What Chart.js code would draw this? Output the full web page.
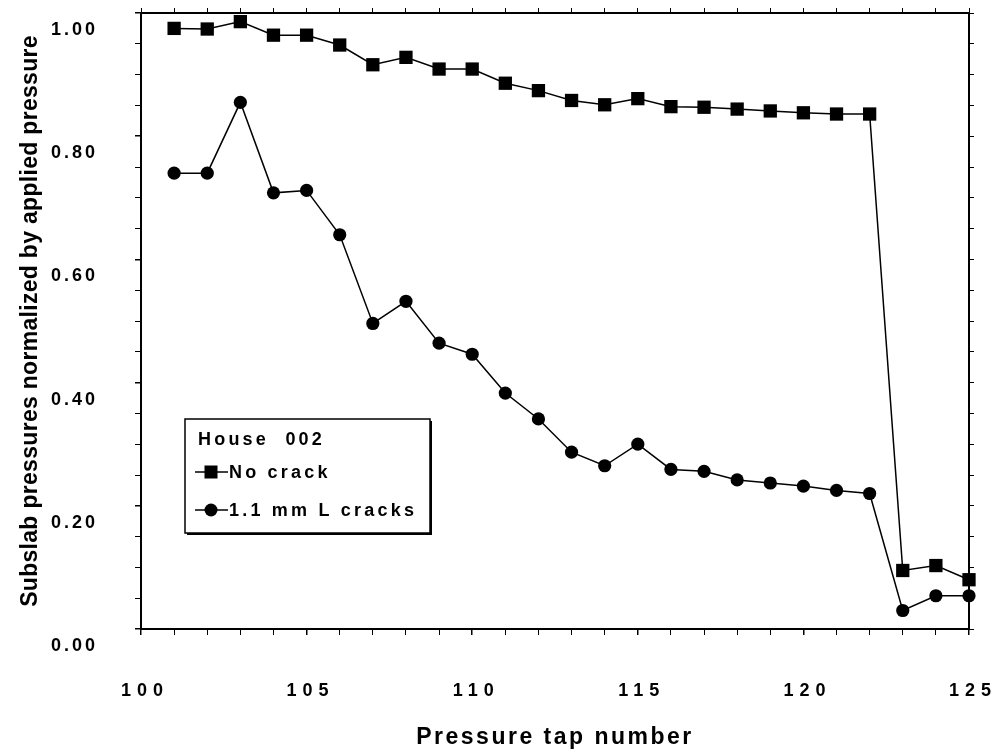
<!DOCTYPE html>
<html>
<head>
<meta charset="utf-8">
<script src="https://cdn.jsdelivr.net/npm/chart.js@4.4.1/dist/chart.umd.min.js"></script>
<style>
html,body{margin:0;padding:0;background:#fff;}
#wrap{width:1004px;height:756px;}
</style>
</head>
<body>
<div id="wrap"><canvas id="c" width="1004" height="756"></canvas></div>
<script>
// ---- data ----
const taps = [101,102,103,104,105,106,107,108,109,110,111,112,113,114,115,116,117,118,119,120,121,122,123,124,125];
const noCrack = [0.975,0.974,0.986,0.964,0.964,0.948,0.916,0.928,0.909,0.909,0.886,0.874,0.858,0.851,0.861,0.848,0.847,0.844,0.841,0.838,0.836,0.836,0.095,0.103,0.080];
const cracks  = [0.740,0.740,0.855,0.708,0.712,0.640,0.496,0.532,0.464,0.446,0.383,0.341,0.287,0.265,0.300,0.259,0.256,0.242,0.237,0.232,0.225,0.220,0.030,0.054,0.054];
const xMajorTicks = [100,105,110,115,120,125];
const yMajorTicks = ['0.00','0.20','0.40','0.60','0.80','1.00'];
const legendTitle = 'House  002';
const seriesNames = ['No crack','1.1 mm L cracks'];
const xTitle = 'Pressure tap number';
const yTitle = 'Subslab pressures normalized by applied pressure';

const FONT = "'Liberation Sans', Arial, sans-serif";

function patchScale(s, labelSp, titleSp){
  if (s._patched) return;
  s._patched = true;
  const dl = s.drawLabels, dt = s.drawTitle;
  s.drawLabels = function(){ const c=this.ctx; const p=c.letterSpacing; c.letterSpacing=labelSp; dl.apply(this,arguments); c.letterSpacing=p; };
  s.drawTitle = function(){ const c=this.ctx; const p=c.letterSpacing; c.letterSpacing=titleSp; dt.apply(this,arguments); c.letterSpacing=p; };
}
function noPad(s){ s.paddingTop=0; s.paddingBottom=0; s.paddingLeft=0; s.paddingRight=0; }

const pts = arr => taps.map((t,i)=>({x:t,y:arr[i]}));

const legendPlugin = {
  id:'houseLegend',
  afterDraw(chart){
    const ctx = chart.ctx, a = chart.chartArea;
    const x0 = a.left + 44, y0 = a.top + 406, w = 245, h = 114;
    ctx.save();
    ctx.fillStyle = '#000';
    ctx.fillRect(x0+2, y0+2, w, h);
    ctx.fillStyle = '#fff';
    ctx.fillRect(x0, y0, w, h);
    ctx.strokeStyle = '#000'; ctx.lineWidth = 1.5;
    ctx.strokeRect(x0, y0, w, h);
    ctx.letterSpacing = '3.2px';
    ctx.fillStyle = '#000';
    ctx.font = 'bold 18px ' + FONT;
    ctx.textBaseline = 'middle'; ctx.textAlign = 'left';
    ctx.fillText(legendTitle, x0+13, y0+21);
    const rows = [{y:y0+53, shape:'rect'},{y:y0+91, shape:'circle'}];
    rows.forEach((r,i)=>{
      ctx.lineWidth = 1.5;
      ctx.beginPath(); ctx.moveTo(x0+10, r.y); ctx.lineTo(x0+43, r.y); ctx.stroke();
      const cx = x0+26;
      if (r.shape==='rect'){ ctx.fillRect(cx-6.5, r.y-6.5, 13, 13); }
      else { ctx.beginPath(); ctx.arc(cx, r.y, 6.5, 0, Math.PI*2); ctx.fill(); }
      ctx.fillText(seriesNames[i], x0+44, r.y+1);
    });
    ctx.restore();
  }
};

new Chart(document.getElementById('c'), {
  type:'line',
  data:{
    datasets:[
      {label:seriesNames[0], data:pts(noCrack), borderColor:'#000', backgroundColor:'#000', borderWidth:1.5,
       pointStyle:'rect', pointRadius:9.4, pointBorderWidth:0, pointBackgroundColor:'#000', clip:false, tension:0},
      {label:seriesNames[1], data:pts(cracks), borderColor:'#000', backgroundColor:'#000', borderWidth:1.5,
       pointStyle:'circle', pointRadius:6.6, pointBorderWidth:0, pointBackgroundColor:'#000', clip:false, tension:0}
    ]
  },
  options:{
    responsive:false, animation:false, devicePixelRatio:1,
    layout:{padding:0},
    plugins:{legend:{display:false}, tooltip:{enabled:false}},
    scales:{
      x:{type:'linear', position:'bottom', min:100, max:125,
        afterFit(s){ s.height = 127; noPad(s); patchScale(s,'6px','2.5px'); },
        border:{color:'#000', width:2},
        grid:{drawOnChartArea:false, drawTicks:true, tickLength:6, color:'#000',
              lineWidth:(c)=> (c.tick && xMajorTicks.includes(c.tick.value)) ? 1.5 : 1},
        ticks:{stepSize:1, autoSkip:false, maxRotation:0, padding:45, labelOffset:4, color:'#000',
               font:{family:FONT, size:18, weight:'bold'},
               callback:(v)=> xMajorTicks.includes(v) ? String(v) : ''},
        title:{display:true, text:xTitle, color:'#000', font:{family:FONT, size:23, weight:'bold'}, padding:{top:0,bottom:5}}
      },
      x2:{type:'linear', position:'top', min:100, max:125,
        afterFit(s){ s.height = 13; noPad(s); },
        border:{color:'#000', width:2},
        grid:{drawOnChartArea:false, drawTicks:true, tickLength:5, color:'#000', lineWidth:1},
        ticks:{stepSize:1, autoSkip:false, display:false, padding:0}
      },
      y:{type:'linear', position:'left', min:0, max:1,
        afterFit(s){ s.width = 141; noPad(s); patchScale(s,'3px','0.3px'); },
        border:{color:'#000', width:2},
        grid:{drawOnChartArea:false, drawTicks:true, tickLength:6, color:'#000',
              lineWidth:(c)=> (c.tick && yMajorTicks.includes(c.tick.value.toFixed(2))) ? 1.5 : 1},
        ticks:{stepSize:0.05, autoSkip:false, padding:37, labelOffset:17, color:'#000',
               font:{family:FONT, size:18, weight:'bold'},
               callback:(v)=> yMajorTicks.includes(Number(v).toFixed(2)) ? Number(v).toFixed(2) : ''},
        title:{display:true, text:yTitle, color:'#000', font:{family:FONT, size:23, weight:'bold'}, padding:{top:17,bottom:0}}
      },
      y2:{type:'linear', position:'right', min:0, max:1,
        afterFit(s){ s.width = 35; noPad(s); },
        border:{color:'#000', width:2},
        grid:{drawOnChartArea:false, drawTicks:true, tickLength:5, color:'#000', lineWidth:1},
        ticks:{stepSize:0.05, autoSkip:false, display:false, padding:0}
      }
    }
  },
  plugins:[legendPlugin]
});
</script>
</body>
</html>
